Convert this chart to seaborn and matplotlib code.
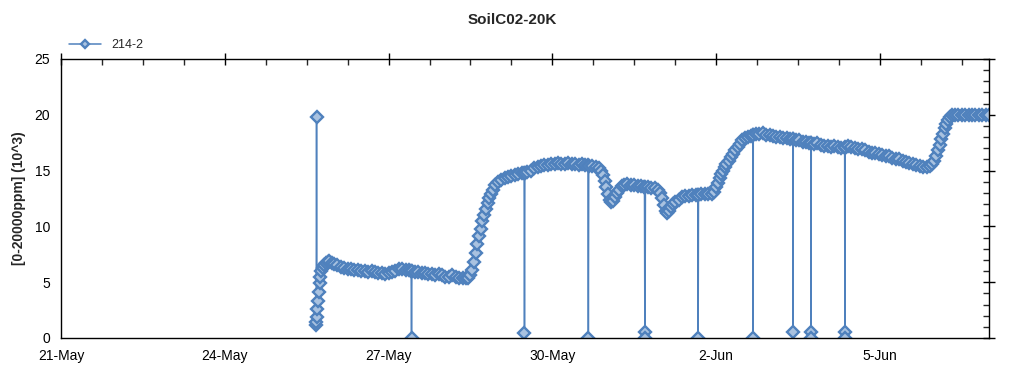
import pandas as pd
import matplotlib
matplotlib.use("Agg")
import matplotlib.pyplot as plt
import matplotlib.dates as mdates
from matplotlib.ticker import MultipleLocator, AutoMinorLocator, FixedLocator
import seaborn as sns

# readings of sensor 214-2, one list per day (year assumed), values in 10^3 ppm
days = ["05-25", "05-26", "05-27", "05-28", "05-29", "05-30", "05-31",
        "06-01", "06-02", "06-03", "06-04", "06-05", "06-06"]
hours = [
    ["16:00", "16:10", "16:20", "16:30", "16:45", "17:00", "17:20", "17:40",
     "18:00", "18:30", "19:00", "19:45", "20:30", "21:15", "22:00", "23:00"],
    ["00:00", "01:30", "03:00", "04:30", "06:00", "07:30", "09:00", "10:30",
     "12:00", "13:30", "15:00", "16:30", "18:00", "19:30", "21:00", "22:30"],
    ["00:00", "01:30", "03:00", "04:30", "06:00", "07:30", "09:00", "09:55",
     "10:05", "10:15", "11:30", "13:00", "14:30", "16:00", "17:30", "19:00",
     "20:30", "22:00", "23:30"],
    ["01:00", "02:30", "04:00", "05:30", "07:00", "08:30", "10:00", "11:00",
     "12:00", "12:45", "13:30", "14:15", "15:00", "15:45", "16:30", "17:15",
     "18:00", "18:45", "19:30", "20:15", "21:00", "22:00", "23:00"],
    ["00:00", "01:30", "03:00", "04:30", "06:00", "07:30", "09:00", "10:30",
     "11:35", "11:45", "11:55", "13:00", "14:30", "16:00", "17:30", "19:00",
     "20:30", "22:00", "23:30"],
    ["01:00", "02:30", "04:00", "05:30", "07:00", "08:30", "10:00", "11:30",
     "13:00", "14:30", "15:40", "15:50", "16:00", "17:30", "19:00", "20:30",
     "21:30", "22:15", "23:00", "23:45"],
    ["00:30", "01:15", "02:00", "02:45", "03:30", "04:30", "05:30", "06:30",
     "07:30", "09:00", "10:30", "12:00", "13:30", "15:00", "16:30", "16:40",
     "16:45", "16:55", "18:00", "19:30", "21:00", "22:30", "23:30"],
    ["00:15", "01:00", "01:45", "02:30", "03:15", "04:00", "05:00", "06:00",
     "07:30", "09:00", "10:30", "12:00", "13:30", "15:00", "16:00", "16:06",
     "16:15", "17:30", "19:00", "20:30", "22:00", "23:00"],
    ["00:00", "00:45", "01:30", "02:15", "03:00", "03:45", "04:30", "05:30",
     "06:30", "07:30", "08:30", "09:30", "10:30", "11:30", "12:30", "14:00",
     "15:30", "16:10", "16:15", "16:20", "17:30", "19:00", "20:30", "22:00",
     "23:30"],
    ["01:00", "02:30", "04:00", "05:30", "07:00", "08:30", "09:45", "09:50",
     "09:55", "11:00", "12:30", "14:00", "15:30", "17:00", "17:38", "17:42",
     "17:45", "17:50", "19:00", "20:30", "22:00", "23:30"],
    ["01:00", "02:30", "04:00", "05:30", "07:00", "08:30", "08:36", "08:40",
     "08:45", "10:00", "11:30", "13:00", "14:30", "16:00", "17:30", "19:00",
     "20:30", "22:00", "23:30"],
    ["01:00", "02:30", "04:00", "05:30", "07:00", "08:30", "10:00", "11:30",
     "13:00", "14:30", "16:00", "17:30", "19:00", "20:30", "22:00", "23:00"],
    ["00:00", "00:45", "01:30", "02:15", "03:00", "03:45", "04:30", "05:15",
     "06:00", "06:45", "07:30", "09:00", "10:30", "12:00", "13:30", "15:00",
     "16:30", "18:00", "19:30", "21:00", "22:30", "23:55"],
]
readings = [
    [1.2, 1.4, 19.8, 1.9, 2.6, 3.3, 4.1, 4.9,
     5.5, 6.0, 6.3, 6.5, 6.7, 6.8, 6.9, 6.7],
    [6.6, 6.5, 6.4, 6.3, 6.2, 6.2, 6.1, 6.1,
     6.0, 6.0, 5.9, 6.0, 5.9, 5.8, 5.8, 5.7],
    [5.8, 5.9, 6.0, 6.2, 6.2, 6.1, 6.1, 6.0,
     0.0, 6.0, 5.9, 5.9, 5.8, 5.8, 5.7, 5.7,
     5.6, 5.7, 5.6],
    [5.5, 5.5, 5.6, 5.5, 5.4, 5.4, 5.4, 5.4,
     5.6, 6.1, 6.8, 7.6, 8.4, 9.1, 9.8, 10.5,
     11.0, 11.6, 12.1, 12.5, 12.9, 13.3, 13.7],
    [14.0, 14.2, 14.3, 14.4, 14.5, 14.6, 14.7, 14.8,
     14.8, 0.45, 14.8, 14.9, 15.0, 15.2, 15.3, 15.4,
     15.5, 15.5, 15.6],
    [15.6, 15.7, 15.6, 15.6, 15.7, 15.6, 15.6, 15.5,
     15.6, 15.5, 15.5, 0.0, 15.4, 15.4, 15.3, 15.2,
     15.0, 14.6, 14.1, 13.5],
    [12.9, 12.4, 12.2, 12.3, 12.6, 13.0, 13.3, 13.6,
     13.7, 13.8, 13.7, 13.7, 13.6, 13.6, 13.5, 0.5,
     0.0, 13.5, 13.5, 13.4, 13.4, 13.3, 13.0],
    [12.5, 11.9, 11.4, 11.2, 11.4, 11.7, 12.0, 12.2,
     12.4, 12.6, 12.7, 12.7, 12.8, 12.8, 12.8, 0.0,
     12.8, 12.9, 12.9, 12.9, 12.9, 13.1],
    [13.5, 13.9, 14.3, 14.7, 15.0, 15.3, 15.6, 15.9,
     16.2, 16.5, 16.8, 17.1, 17.4, 17.7, 17.9, 18.0,
     18.1, 18.2, 0.0, 18.2, 18.3, 18.3, 18.4, 18.2,
     18.2],
    [18.1, 18.0, 18.0, 17.9, 17.9, 17.8, 17.8, 0.5,
     17.8, 17.7, 17.7, 17.6, 17.6, 17.5, 17.5, 0.5,
     0.0, 17.5, 17.4, 17.5, 17.3, 17.2],
    [17.2, 17.1, 17.2, 17.1, 17.0, 17.0, 0.5, 0.0,
     17.1, 17.2, 17.1, 17.0, 16.9, 16.9, 16.8, 16.7,
     16.6, 16.6, 16.5],
    [16.4, 16.3, 16.3, 16.1, 16.0, 16.0, 15.9, 15.8,
     15.7, 15.6, 15.5, 15.4, 15.3, 15.3, 15.4, 15.6],
    [15.9, 16.3, 16.8, 17.3, 17.8, 18.3, 18.8, 19.2,
     19.5, 19.8, 20.0, 20.0, 20.0, 20.0, 20.0, 20.0,
     20.0, 20.0, 20.0, 20.0, 20.0, 20.0],
]
series_name = "214-2"
tick_dates = ["05-21", "05-24", "05-27", "05-30", "06-02", "06-05"]
tick_labels = ["21-May", "24-May", "27-May", "30-May", "2-Jun", "5-Jun"]
x_range = ["05-21 00:00", "06-07 00:00"]

YEAR = "2013-"


def to_dt(items):
    return pd.to_datetime([YEAR + s for s in items])


stamps, vals = [], []
for d, hs, vs in zip(days, hours, readings):
    assert len(hs) == len(vs), d
    stamps += [d + " " + h for h in hs]
    vals += vs
df = pd.DataFrame({"time": to_dt(stamps), "value": vals})

sns.set_style("white")
plt.rcParams["font.family"] = ["Liberation Sans", "DejaVu Sans"]

fig = plt.figure(figsize=(10.24, 3.75), dpi=100)
ax = fig.add_axes([0.0596, 0.0987, 0.9063, 0.744])

line_color = "#4F81BD"
sns.lineplot(data=df, x="time", y="value", ax=ax, estimator=None, sort=False,
             color=line_color, linewidth=1.1, marker="D", markersize=6.3,
             markerfacecolor="#A9C2E0", markeredgecolor=line_color,
             markeredgewidth=1.7, label=series_name)

# axes ranges and ticks
xr = to_dt(x_range)
ax.set_xlim(xr[0], xr[1])
ax.set_ylim(0, 25)
ax.xaxis.set_major_locator(FixedLocator(mdates.date2num(to_dt(tick_dates))))
ax.set_xticklabels(tick_labels)
ax.xaxis.set_minor_locator(AutoMinorLocator(4))
ax.yaxis.set_major_locator(MultipleLocator(5))
ax.yaxis.set_minor_locator(MultipleLocator(1))

ax.tick_params(which="major", direction="inout", length=9, width=1,
               labelsize=10, colors="black", top=True, right=True)
ax.tick_params(which="minor", direction="in", length=4, width=1,
               top=True, right=True)
for sp in ax.spines.values():
    sp.set_color("black")
    sp.set_linewidth(1)

ax.set_xlabel("")
ax.set_ylabel("[0-20000ppm] (10^3)", fontsize=10, fontweight="bold", labelpad=6)
fig.suptitle("SoilC02-20K", fontsize=11, fontweight="bold", y=0.965)

ax.legend(loc="lower left", bbox_to_anchor=(0.0, 1.0), frameon=False,
          fontsize=9, handlelength=2.6, borderaxespad=0.2, markerscale=0.7)

fig.savefig("out.png", dpi=100)
plt.close(fig)
